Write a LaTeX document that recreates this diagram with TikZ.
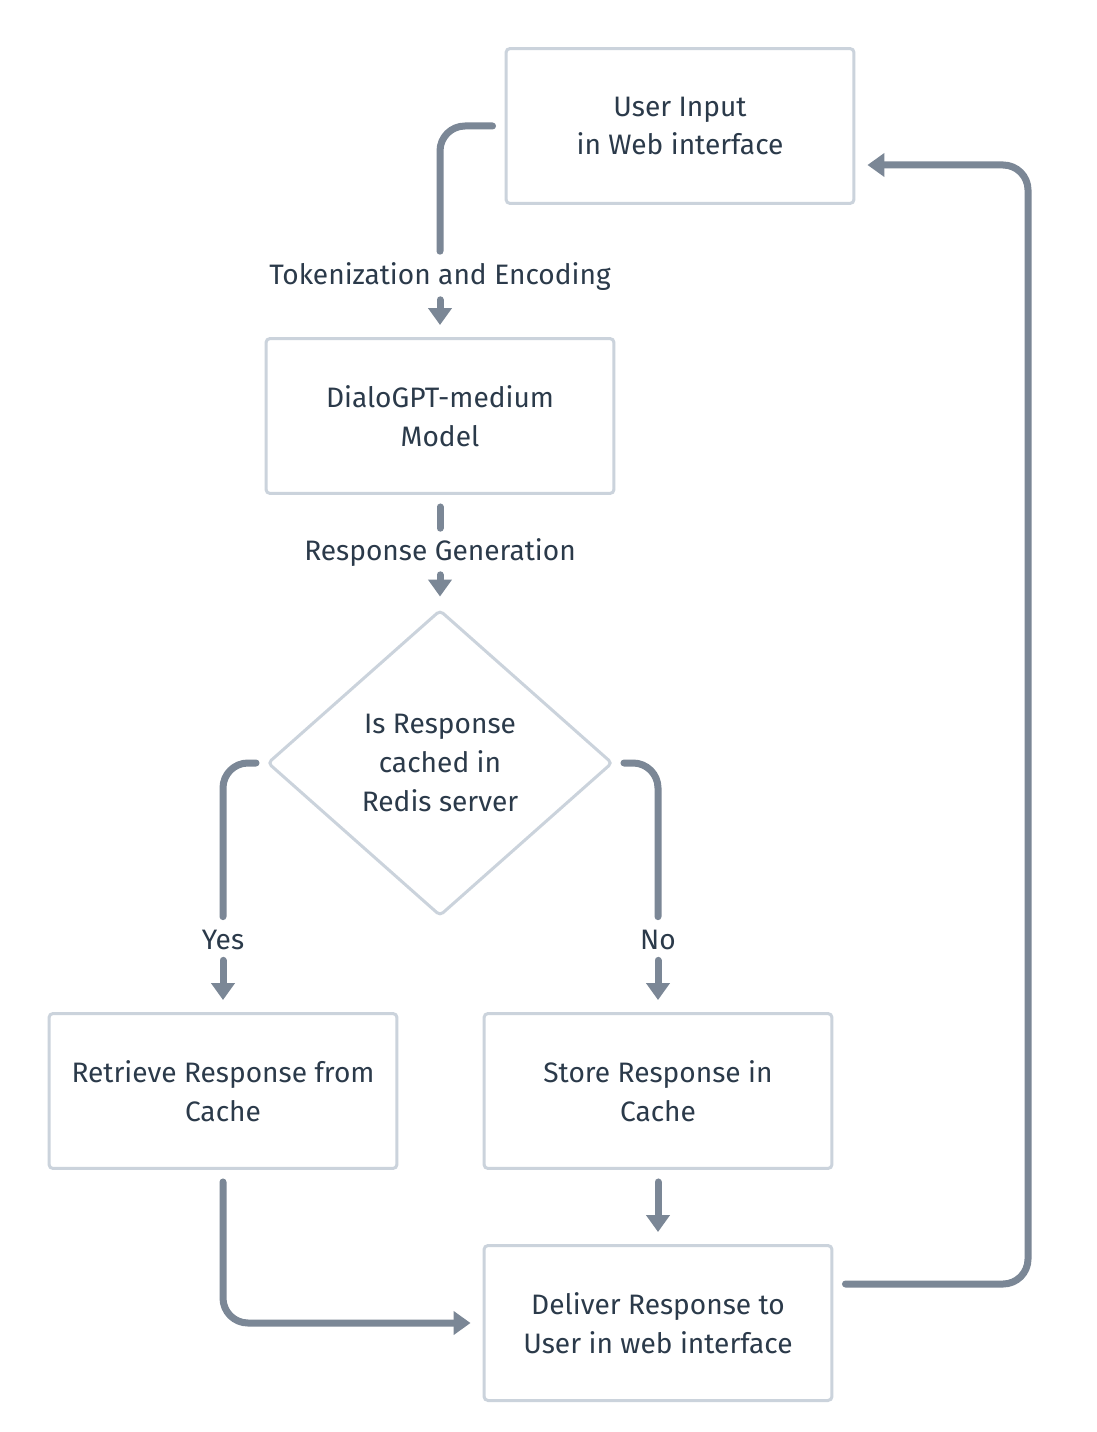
\documentclass[tikz,border=0pt]{standalone}
\usepackage{fontspec}
\setmainfont{Fira Sans}
\usetikzlibrary{shapes.geometric,arrows.meta}
\definecolor{boxline}{HTML}{CBD3DC}
\definecolor{arrowgrey}{HTML}{7B8796}
\definecolor{textdark}{HTML}{2B3A4A}
\tikzset{>={Triangle[length=0.34cm,width=0.46cm]}}
\tikzstyle{block} = [rectangle, draw=boxline, line width=0.06cm, fill=white,
    text=textdark, align=center, rounded corners=0.08cm,
    minimum width=6.96cm, minimum height=3.1cm, font=\fontsize{16}{22}\selectfont]
\tikzstyle{decision} = [diamond, draw=boxline, line width=0.06cm, fill=white,
    text=textdark, align=center, rounded corners=0.08cm, inner sep=0pt,
    minimum width=6.9cm, minimum height=6.12cm, font=\fontsize{16}{22}\selectfont]
\tikzstyle{steplabel} = [text=textdark, inner sep=0pt, minimum height=0.5cm,
    font=\fontsize{16}{22}\selectfont]
\tikzstyle{conn} = [draw=arrowgrey, line width=0.14cm, line cap=round, rounded corners=0.5cm]

\begin{document}
\begin{tikzpicture}[x=0.02cm, y=-0.02cm]
  \useasboundingbox[fill=white] (0,0) rectangle (1096,1432);

  \node [block] (ui) at (680,126) {User Input\\in Web interface};
  \node [block] (dgpt) at (440,416) {DialoGPT-medium\\Model};
  \node [decision] (cached) at (440,763) {Is Response\\cached in\\Redis server};
  \node [block] (ret) at (223,1091) {Retrieve Response from\\Cache};
  \node [block] (sto) at (658,1091) {Store Response in\\Cache};
  \node [block] (del) at (658,1323) {Deliver Response to\\User in web interface};

  \node [steplabel] (tok) at (440,277) {Tokenization and Encoding};
  \node [steplabel] (gen) at (440,553) {Response Generation};
  \node [steplabel] (yes) at (223,940) {Yes};
  \node [steplabel] (no) at (658,940) {No};
  \coordinate (rt) at (1028,0);

  % input -> model
  \draw [conn, shorten <=0.24cm, shorten >=0.23cm] (ui.west) -| (tok.north);
  \draw [conn, ->, shorten <=0.17cm, shorten >=0.24cm] (tok.south) -- (dgpt.north);

  % model -> decision
  \draw [conn, shorten <=0.24cm, shorten >=0.21cm] (dgpt.south) -- (gen.north);
  \draw [conn, ->, shorten <=0.15cm, shorten >=0.24cm] (gen.south) -- (cached.north);

  % yes / no branches
  \draw [conn, shorten <=0.2cm, shorten >=0.21cm] (cached.west) -| (yes.north);
  \draw [conn, ->, shorten <=0.15cm, shorten >=0.24cm] (yes.south) -- (ret.north);
  \draw [conn, shorten <=0.2cm, shorten >=0.21cm] (cached.east) -| (no.north);
  \draw [conn, ->, shorten <=0.15cm, shorten >=0.24cm] (no.south) -- (sto.north);

  % to delivery
  \draw [conn, ->, shorten <=0.24cm, shorten >=0.24cm] (ret.south) |- (del.west);
  \draw [conn, ->, shorten <=0.24cm, shorten >=0.24cm] (sto.south) -- (del.north);

  % back to input
  \draw [conn, ->, shorten <=0.24cm, shorten >=0.24cm]
    ([yshift=0.78cm]del.east) -- ([yshift=0.78cm]del.east -| rt)
    |- ([yshift=-0.78cm]ui.east);
\end{tikzpicture}
\end{document}
